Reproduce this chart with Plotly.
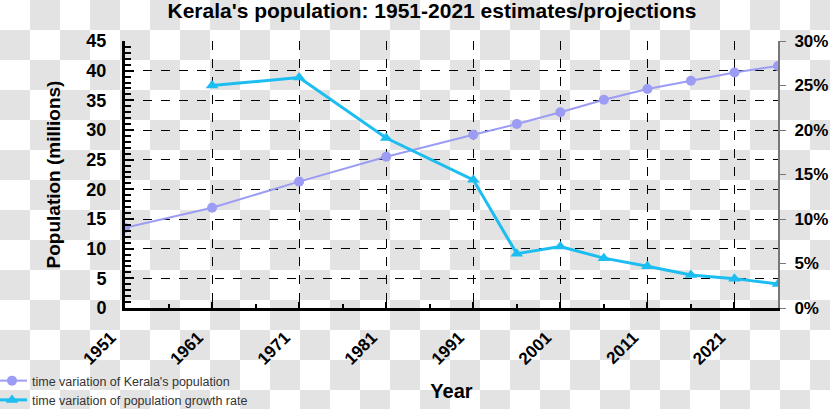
import plotly.graph_objects as go

# Kerala population (millions) and decadal growth rate (%)
years = [1951, 1961, 1971, 1981, 1991, 1996, 2001, 2006, 2011, 2016, 2021, 2026]
population = [13.5, 16.9, 21.3, 25.5, 29.2, 31.0, 33.0, 35.1, 36.9, 38.3, 39.7, 40.8]
growth_rate = [None, 25.0, 25.9, 19.1, 14.4, 6.1, 6.9, 5.6, 4.7, 3.7, 3.3, 2.7]

tick_years = [1951, 1961, 1971, 1981, 1991, 2001, 2011, 2021]

W, H = 830, 409
L, R, T, B = 125, 52, 41, 101
pw, ph = W - L - R, H - T - B

fig = go.Figure()

fig.add_trace(go.Scatter(
    x=years, y=population,
    name="time variation of Kerala's population",
    mode='lines+markers',
    line=dict(color='#9c9cf4', width=2),
    marker=dict(symbol='circle', size=10, color='#9c9cf4'),
))

fig.add_trace(go.Scatter(
    x=years, y=growth_rate,
    name='time variation of population growth rate',
    mode='lines+markers',
    yaxis='y2',
    line=dict(color='#1cbdf0', width=3),
    marker=dict(symbol='triangle-up', size=11, color='#1cbdf0'),
))

# checkerboard background (transparent-image look)
shapes = []
cell = 30
for i in range(W // cell + 1):
    for j in range(H // cell + 1):
        if (i + j) % 2 == 1:
            x0, y0 = i * cell, j * cell
            shapes.append(dict(
                type='rect', xref='paper', yref='paper', layer='below',
                x0=(x0 - L) / pw, x1=(x0 + cell - L) / pw,
                y0=(H - B - y0) / ph, y1=(H - B - y0 - cell) / ph,
                fillcolor='#e3e3e3', line=dict(width=0),
            ))

fig.update_layout(
    width=W, height=H,
    margin=dict(l=L, r=R, t=T, b=B, autoexpand=False),
    paper_bgcolor='white',
    plot_bgcolor='rgba(0,0,0,0)',
    shapes=shapes,
    font=dict(family='Arial, Liberation Sans, sans-serif', color='black'),
    title=dict(
        text="<b>Kerala's population: 1951-2021 estimates/projections</b>",
        x=432 / W, xanchor='center', y=1 - 11 / H, yanchor='middle',
        font=dict(size=21, color='black'),
    ),
    xaxis=dict(
        range=[1951, 2026],
        tickvals=tick_years,
        ticktext=['<b>%d</b>' % y for y in tick_years],
        tickangle=-45,
        tickfont=dict(size=17),
        ticks='inside', ticklen=6, tickwidth=2, tickcolor='black',
        ticklabelstandoff=10, ticklabelshift=-14,
        minor=dict(dtick=5, tick0=1951, ticks='inside', ticklen=4,
                   tickwidth=2, tickcolor='black', showgrid=False),
        showline=True, linecolor='black', linewidth=3,
        showgrid=True, gridcolor='black', griddash='dash', gridwidth=1,
        zeroline=False,
        title=dict(text='<b>Year</b>', font=dict(size=20), standoff=17),
    ),
    yaxis=dict(
        range=[0, 45], dtick=5,
        tickfont=dict(size=18),
        tickprefix='<b>', ticksuffix='</b>',
        ticks='inside', ticklen=9, tickwidth=2, tickcolor='black',
        ticklabelstandoff=12,
        minor=dict(dtick=1, ticks='inside', ticklen=6, tickwidth=2,
                   tickcolor='black', showgrid=False),
        showline=True, linecolor='black', linewidth=3,
        showgrid=True, gridcolor='black', griddash='dash', gridwidth=1,
        zeroline=False,
        title=dict(text='<b>Population (millions)</b>', font=dict(size=19), standoff=21),
    ),
    yaxis2=dict(
        overlaying='y', side='right',
        range=[0, 30], dtick=5,
        tickfont=dict(size=17),
        tickprefix='<b>', ticksuffix='%</b>',
        ticks='outside', ticklen=6, tickwidth=1, tickcolor='#777777',
        ticklabelstandoff=5,
        showline=True, linecolor='#777777', linewidth=2,
        showgrid=False, zeroline=False,
    ),
    legend=dict(
        x=(-8 - L) / pw, xanchor='left',
        y=-(415 - (H - B)) / ph, yanchor='bottom',
        font=dict(size=12.5, color='#333333'),
        bgcolor='rgba(0,0,0,0)', itemwidth=30,
        tracegroupgap=0,
    ),
    showlegend=True,
)

# drop the browser's default body margin so the 830x409 figure fills the window
fig.write_html("out.html", config={'displayModeBar': False},
               post_script="document.body.style.margin = '0px';")
